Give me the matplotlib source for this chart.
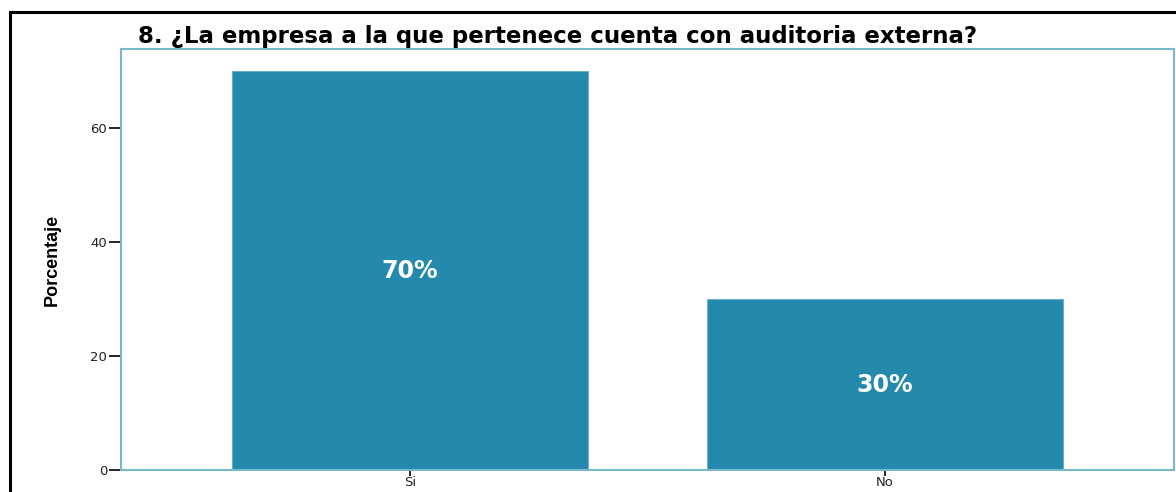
import matplotlib.pyplot as plt
from matplotlib.patches import Rectangle

# Respuestas a la pregunta 8
categorias = ["Si", "No"]
porcentajes = [70, 30]
etiquetas = ["70%", "30%"]

W, H = 1176, 492
fig = plt.figure(figsize=(W / 100, H / 100), dpi=100)

# marco exterior negro
fig.patches.append(Rectangle((10 / W, -0.1), 1.2, (H - 12) / H + 0.1,
                             transform=fig.transFigure, fill=False,
                             edgecolor="black", linewidth=2.2))

ax = fig.add_axes([121 / W, (H - 470) / H, (1174 - 121) / W, (470 - 49) / H])
x = range(len(categorias))
bars = ax.bar(x, porcentajes, width=0.75, color="#248aad", edgecolor="#6fb0c8", linewidth=0.8)

for b, txt in zip(bars, etiquetas):
    ax.text(b.get_x() + b.get_width() / 2, b.get_height() / 2, txt,
            ha="center", va="center", color="white", fontsize=17,
            fontweight="bold", family="DejaVu Sans")

ax.set_xlim(-0.608, 1.608)
ax.set_ylim(0, 73.9)
ax.set_yticks([0, 20, 40, 60])
ax.set_xticks(list(x))
ax.set_xticklabels(categorias)

for s in ax.spines.values():
    s.set_color("#7ab8cc")
    s.set_linewidth(1.5)

ax.tick_params(axis="y", length=9, width=1.2, color="black", labelsize=9.5,
               labelcolor="#222222", pad=1)
ax.tick_params(axis="x", length=4, width=1.2, color="black", labelsize=9.5,
               labelcolor="#222222", pad=0)
for lbl in ax.get_xticklabels() + ax.get_yticklabels():
    lbl.set_family("DejaVu Sans")

fig.text(52 / W, (H - 260) / H, "Porcentaje", rotation=90, ha="center", va="center",
         fontsize=13, fontweight="bold", family=["Liberation Sans Narrow", "Liberation Sans"],
         fontstretch="condensed")

fig.text(138 / W, (H - 36) / H, "8. ¿La empresa a la que pertenece cuenta con auditoria externa?",
         ha="left", va="center", fontsize=16.5, fontweight="bold", family="DejaVu Sans")

fig.savefig("out.png", dpi=100)
